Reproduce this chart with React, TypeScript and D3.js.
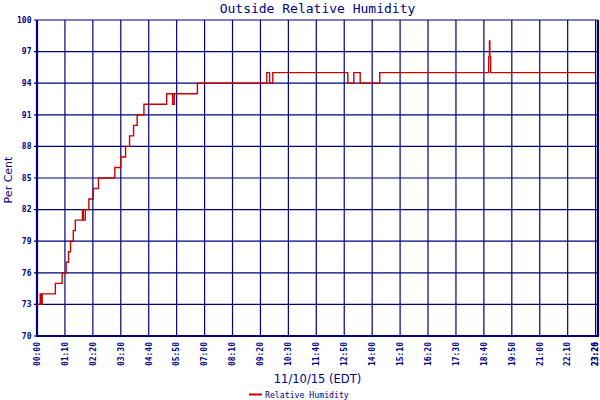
import * as d3 from 'd3';

// humidity readings, step changes (minutes after midnight -> %)
const minutes = [0, 8, 10, 13, 46, 63, 73, 79, 84, 91, 96, 114, 116, 121, 130, 141, 154, 195, 210, 222, 232, 242, 251, 268, 325, 340, 344, 402, 576, 583, 591, 779, 794, 810, 859, 1132, 1134, 1135, 1137, 1400];
const humidity = [73, 74, 73, 74, 75, 76, 77, 78, 79, 80, 81, 82, 81, 82, 83, 84, 85, 86, 87, 88, 89, 90, 91, 92, 93, 92, 93, 94, 95, 94, 95, 94, 95, 94, 95, 96.5, 98, 96.5, 95, 95];

const xTickLabels = ['00:00', '01:10', '02:20', '03:30', '04:40', '05:50', '07:00', '08:10', '09:20', '10:30', '11:40', '12:50', '14:00', '15:10', '16:20', '17:30', '18:40', '19:50', '21:00', '22:10', '23:20'];
const endLabel = '23:26';
const yTicks = [70, 73, 76, 79, 82, 85, 88, 91, 94, 97, 100];

const navy = '#000080';
const red = '#cc0000';
const mono = "'DejaVu Sans Mono', monospace";
const sans = "'DejaVu Sans', sans-serif";

const toMin = (s: string) => {
  const [h, m] = s.split(':').map(Number);
  return h * 60 + m;
};

export default function App() {
  const left = 37;
  const right = 598;
  const top = 20;
  const bottom = 336;

  const x = d3.scaleLinear().domain([0, toMin(endLabel)]).range([left, right]);
  const y = d3.scaleLinear().domain([70, 100]).range([bottom, top]);

  const pts = minutes.map((m, i) => [m, humidity[i]] as [number, number]);
  const line = d3
    .line<[number, number]>()
    .x((d) => x(d[0]))
    .y((d) => y(d[1]))
    .curve(d3.curveStepAfter);

  const cx = (left + right) / 2;

  return (
    <svg
      width={600}
      height={400}
      style={{ position: 'absolute', left: 0, top: 0, background: '#fff' }}
    >
      <text x={cx} y={13} textAnchor="middle" fontFamily={mono} fontSize={13} fill={navy}>
        Outside Relative Humidity
      </text>

      {/* grid */}
      {yTicks.map((t) => (
        <g key={'y' + t}>
          <line x1={left - 3} x2={right} y1={y(t)} y2={y(t)} stroke={navy} strokeWidth={1.2} />
          <text
            x={31.5}
            y={y(t)}
            dy="0.35em"
            textAnchor="end"
            fontFamily={mono}
            fontSize={8}
            fontWeight="bold"
            fill={navy}
          >
            {t}
          </text>
        </g>
      ))}
      {xTickLabels.map((s) => (
        <g key={'x' + s}>
          <line x1={x(toMin(s))} x2={x(toMin(s))} y1={top} y2={bottom} stroke={navy} strokeWidth={1.2} />
          <text
            transform={`translate(${x(toMin(s))},342) rotate(-90)`}
            dy="0.35em"
            textAnchor="end"
            fontFamily={mono}
            fontSize={8}
            fontWeight="bold"
            fill={navy}
          >
            {s}
          </text>
        </g>
      ))}
      <text
        transform={`translate(${x(toMin(endLabel)) - 3},342) rotate(-90)`}
        dy="0.35em"
        textAnchor="end"
        fontFamily={mono}
        fontSize={8}
        fontWeight="bold"
        fill={navy}
      >
        {endLabel}
      </text>

      {/* axes */}
      <line x1={left} x2={left} y1={top} y2={bottom + 1} stroke={navy} strokeWidth={2.2} />
      <line x1={left} x2={right + 1} y1={bottom} y2={bottom} stroke={navy} strokeWidth={2.2} />
      <line x1={right} x2={right} y1={top} y2={bottom} stroke={navy} strokeWidth={2.2} />

      <path d={line(pts) ?? ''} fill="none" stroke={red} strokeWidth={1.4} />

      <text
        transform="translate(11.5,180) rotate(-90)"
        textAnchor="middle"
        fontFamily={sans}
        fontSize={11}
        fill={navy}
      >
        Per Cent
      </text>
      <text x={cx} y={383} textAnchor="middle" fontFamily={sans} fontSize={11.5} fill={navy}>
        11/10/15 (EDT)
      </text>

      {/* legend */}
      <line x1={249} x2={262} y1={394.5} y2={394.5} stroke={red} strokeWidth={2} />
      <text x={265} y={397.5} fontFamily={mono} fontSize={8.2} fill={navy}>
        Relative Humidity
      </text>
    </svg>
  );
}
